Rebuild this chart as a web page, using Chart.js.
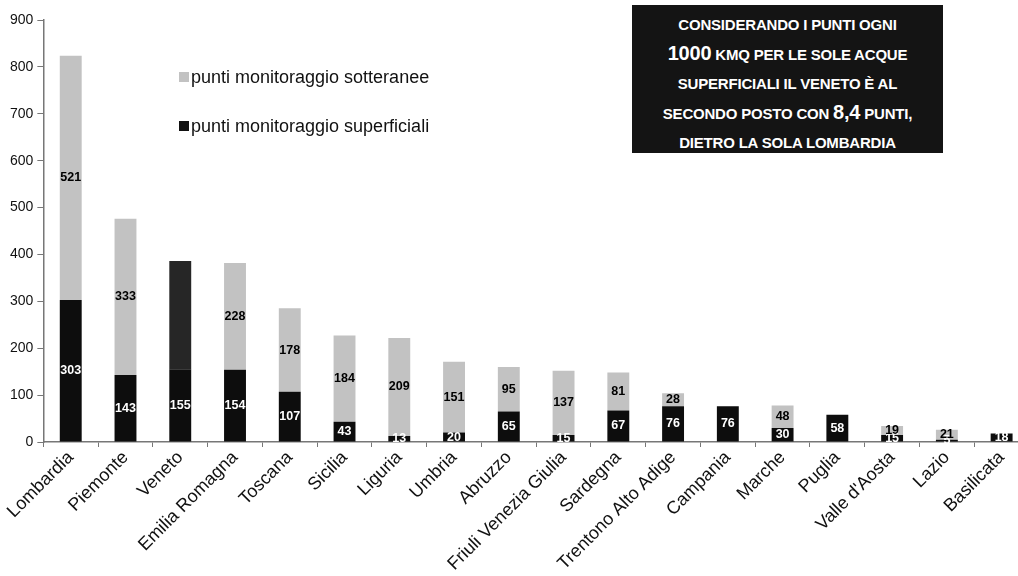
<!DOCTYPE html>
<html>
<head>
<meta charset="utf-8">
<script src="https://cdn.jsdelivr.net/npm/chart.js@4/dist/chart.umd.min.js"></script>
<style>
  html, body { margin: 0; padding: 0; background: #fff; overflow: hidden; }
  body { width: 1018px; height: 576px; position: relative; font-family: "Liberation Sans", Arial, Helvetica, sans-serif; }
  #wrap { position: absolute; left: 0; top: 0; width: 1034px; height: 576px; }
  .legend { position: absolute; left: 179px; font-size: 18px; line-height: 20px; color: #111; white-space: nowrap; }
  .legend i { display: inline-block; width: 10px; height: 10px; margin-right: 2px; vertical-align: 1px; }
  #note {
    position: absolute; left: 632px; top: 5px; width: 311px; height: 148px;
    background: #141414; color: #fff; font-weight: bold; font-size: 15px;
    text-align: center; box-sizing: border-box; padding-top: 5px; line-height: 29px;
    overflow: hidden; letter-spacing: -0.2px;
  }
  #note b { font-size: 20px; }
</style>
</head>
<body>
<div id="wrap"><canvas id="chart"></canvas></div>

<div class="legend" style="top:67px"><i style="background:#c2c2c2"></i>punti monitoraggio sotteranee</div>
<div class="legend" style="top:116px"><i style="background:#111"></i>punti monitoraggio superficiali</div>

<div id="note">
  CONSIDERANDO I PUNTI OGNI<br>
  <b>1000</b> KMQ PER LE SOLE ACQUE<br>
  SUPERFICIALI IL VENETO È AL<br>
  SECONDO POSTO CON <b>8,4</b> PUNTI,<br>
  DIETRO LA SOLA LOMBARDIA
</div>

<script>
// punti di monitoraggio per regione
const regioni = ['Lombardia', 'Piemonte', 'Veneto', 'Emilia Romagna', 'Toscana', 'Sicilia',
                 'Liguria', 'Umbria', 'Abruzzo', 'Friuli Venezia Giulia', 'Sardegna',
                 'Trentono Alto Adige', 'Campania', 'Marche', 'Puglia', "Valle d'Aosta",
                 'Lazio', 'Basilicata'];
const superficiali = [303, 143, 155, 154, 107, 43, 13, 20, 65, 15, 67, 76, 76, 30, 58, 15, 5, 18];
const sotterranee  = [521, 333, 231, 228, 178, 184, 209, 151, 95, 137, 81, 28, 0, 48, 0, 19, 21, 0];
const yTicks = [0, 100, 200, 300, 400, 500, 600, 700, 800, 900];

const FONT = '"Liberation Sans", Arial, Helvetica, sans-serif';
const VENETO = regioni.indexOf('Veneto');

// numeri scritti al centro di ogni segmento
const segmentLabels = {
    id: 'segmentLabels',
    afterDatasetsDraw(chart) {
        const ctx = chart.ctx;
        ctx.save();
        ctx.font = 'bold 12.5px ' + FONT;
        ctx.textAlign = 'center';
        ctx.textBaseline = 'middle';
        chart.data.datasets.forEach((ds, di) => {
            chart.getDatasetMeta(di).data.forEach((bar, i) => {
                const v = ds.data[i];
                if (!v) return;
                if (di === 1 && i === VENETO) return;
                const mid = (bar.y + bar.base) / 2;
                ctx.fillStyle = di === 0 ? '#fff' : '#000';
                ctx.fillText(String(v), bar.x, mid);
            });
        });
        ctx.restore();
    }
};

new Chart(document.getElementById('chart'), {
    type: 'bar',
    data: {
        labels: regioni,
        datasets: [
            {
                label: 'punti monitoraggio superficiali',
                data: superficiali,
                backgroundColor: '#0d0d0d',
                barPercentage: 0.4,
                categoryPercentage: 1
            },
            {
                label: 'punti monitoraggio sotteranee',
                data: sotterranee,
                backgroundColor: c => c.dataIndex === VENETO ? '#262626' : '#c2c2c2',
                barPercentage: 0.4,
                categoryPercentage: 1
            }
        ]
    },
    options: {
        responsive: true,
        maintainAspectRatio: false,
        animation: false,
        layout: { padding: { top: 20, left: 6, right: 5, bottom: 0 } },
        plugins: {
            legend: { display: false },
            tooltip: { enabled: false }
        },
        scales: {
            x: {
                stacked: true,
                grid: { display: true, drawOnChartArea: false, offset: true, color: '#777', tickLength: 5 },
                border: { color: '#777', width: 1.5 },
                ticks: {
                    color: '#111',
                    font: { family: FONT, size: 18 },
                    minRotation: 45,
                    maxRotation: 45,
                    autoSkip: false,
                    padding: 0
                },
                afterFit: s => { s.height = 134; }
            },
            y: {
                stacked: true,
                min: 0,
                max: 900,
                afterBuildTicks: s => { s.ticks = yTicks.map(v => ({ value: v })); },
                grid: { display: true, drawOnChartArea: false, color: '#777', tickLength: 6 },
                border: { color: '#777', width: 1.5 },
                ticks: {
                    color: '#111',
                    font: { family: FONT, size: 14 },
                    padding: 4
                }
            }
        }
    },
    plugins: [segmentLabels]
});
</script>
</body>
</html>
